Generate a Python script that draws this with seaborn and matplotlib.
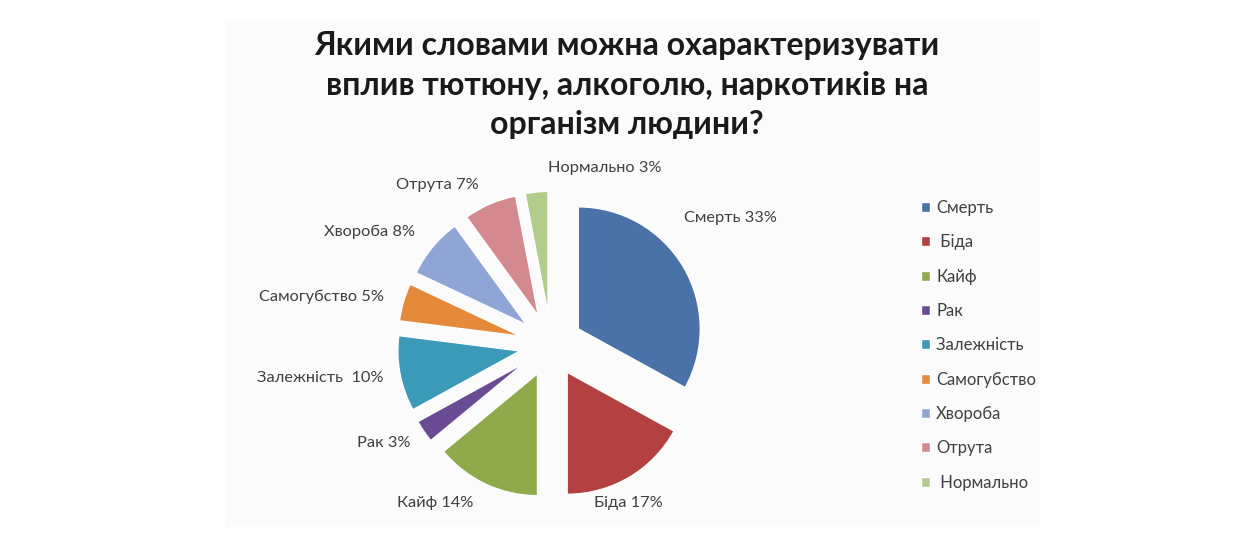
import numpy as np
import seaborn as sns
import matplotlib.pyplot as plt
from matplotlib.patches import Rectangle

categories = ["Смерть", " Біда", "Кайф", "Рак", "Залежність ", "Самогубство",
              "Хвороба", "Отрута", " Нормально"]
values = [33, 17, 14, 3, 10, 5, 8, 7, 3]
colors = ["#4a72a8", "#b3413f", "#8eaa4b", "#6a4c94", "#3a9ab8", "#e48a3a",
          "#8ea5d6", "#d4898e", "#b2cc8c"]
title = "Якими словами можна охарактеризувати\nвплив тютюну, алкоголю, наркотиків на\nорганізм людини?"

# label placement (distance from centre, angle tweak in degrees)
label_dist = [1.80, 1.44, 1.61, 1.59, 1.91, 1.92, 1.75, 1.61, 1.52]
label_dt = [4.8, -4.6, -11.1, -3.9, -2.7, 4.4, 7.6, 12.1, -22.4]

sns.set_theme(style="white")
plt.rcParams['font.family'] = ['Lato', 'DejaVu Sans']

fig = plt.figure(figsize=(12.45, 5.44), dpi=100)
fig.patch.set_facecolor("white")
fig.patches.append(Rectangle((225 / 1245, 1 - 527 / 544), 815 / 1245, 507 / 544,
                             transform=fig.transFigure, facecolor="#fbfbfb",
                             edgecolor="none", zorder=-1))

L = 1.6
side = 2 * L * 122
ax = fig.add_axes([(551 - side / 2) / 1245, (199 - side / 2) / 544, side / 1245, side / 544])
wedges, _ = ax.pie(values, colors=colors, startangle=90, counterclock=False,
                   explode=[0.26] * len(values), radius=1.0)
ax.set_xlim(-L, L)
ax.set_ylim(-L, L)
ax.axis('off')

for w, cat, v, r, dt in zip(wedges, categories, values, label_dist, label_dt):
    theta = np.deg2rad((w.theta1 + w.theta2) / 2 + dt)
    ax.text(r * np.cos(theta), r * np.sin(theta), f"{cat.lstrip()} {v}%",
            ha='center', va='center', fontsize=11.8, color="#404040")

fig.text(627 / 1245, 1 - 85 / 544, title, ha='center', va='center',
         fontsize=23, fontweight='bold', color="#1a1a1a", linespacing=1.42)

leg = fig.legend(wedges, categories, loc='upper left',
                 bbox_to_anchor=(906 / 1245, 1 - 185 / 544), frameon=False,
                 fontsize=12, labelspacing=1.1, handlelength=0.55,
                 handleheight=0.55, handletextpad=0.35)
for t in leg.get_texts():
    t.set_color("#404040")

fig.savefig("out.png", dpi=100)
